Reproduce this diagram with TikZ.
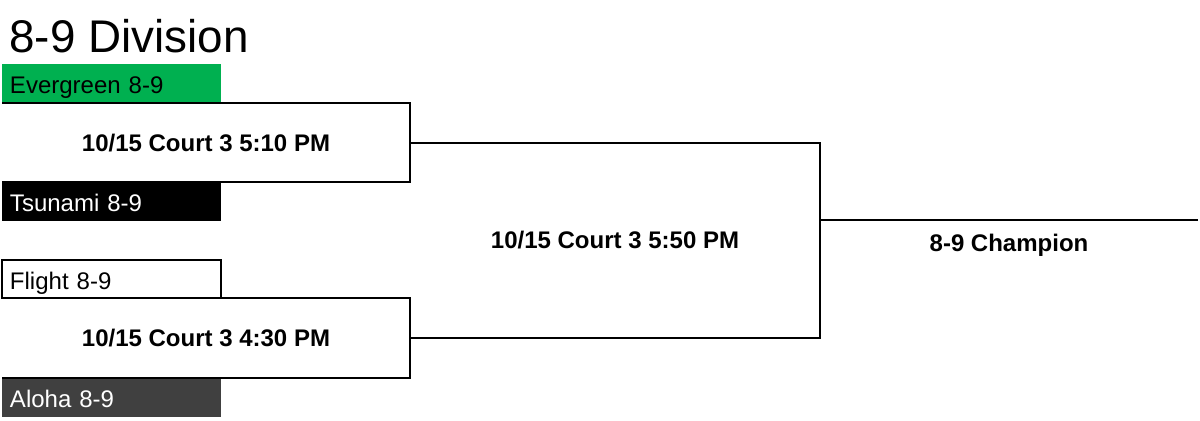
\documentclass[tikz,border=0pt]{standalone}
\usepackage{fontspec}
\setmainfont{Liberation Sans}
\usepackage{xcolor}
\usepackage{tikz}
\usetikzlibrary{calc,positioning}
\definecolor{evergreen}{HTML}{00B050}
\definecolor{aloha}{HTML}{404040}

\begin{document}
\begin{tikzpicture}[x=0.5pt,y=-0.5pt,
  team/.style={rectangle,inner xsep=4pt,inner ysep=0pt,outer sep=0pt,minimum height=19.5pt,
    text width=101.5pt,align=left,text height=10pt,text depth=0pt,font=\fontsize{12}{14}\selectfont},
  match/.style={rectangle,inner sep=0pt,outer sep=0pt,text height=8.5pt,text depth=0pt,
    font=\bfseries\fontsize{12}{14}\selectfont},
  bracket/.style={line width=1pt}]
\fill[white] (0,0) rectangle (1200,420);
\useasboundingbox (0,0) rectangle (1200,420);
\node (title) [anchor=base west,inner sep=0pt,font=\fontsize{22.9}{27}\selectfont] at (9,52) {8-9 Division};
\node (m1) [match,minimum width=204pt,minimum height=39.5pt,anchor=north west] at (2,103) {10/15 Court 3 5:10 PM};
\node (ever) [team,fill=evergreen,anchor=south west] at (m1.north west) {Evergreen 8-9};
\node (tsu) [team,fill=black,text=white,anchor=north west] at (m1.south west) {Tsunami 8-9};
\node (m2) [match,minimum width=204pt,minimum height=40pt,anchor=north west] at (2,298) {10/15 Court 3 4:30 PM};
\node (fli) [team,draw,line width=1pt,minimum height=19pt,anchor=south west] at (m2.north west) {Flight 8-9};
\node (alo) [team,fill=aloha,text=white,anchor=north west] at (m2.south west) {Aloha 8-9};
\node (m3) [match,minimum width=205pt,minimum height=97.75pt,anchor=north west] at (m1.east) {10/15 Court 3 5:50 PM};
\node (champ) [match,minimum width=189pt,minimum height=23pt,anchor=north west,yshift=10pt] at (m3.east) {8-9 Champion};
\draw[bracket] (m1.north west) -- (m1.north east) -- (m1.south east) -- (m1.south west);
\draw[bracket] (m2.north west) -- (m2.north east) -- (m2.south east) -- (m2.south west);
\draw[bracket] (m3.north west) -- (m3.north east) -- (m3.south east) -- (m3.south west);
\draw[bracket] (champ.north west) -- (champ.north east);
\end{tikzpicture}
\end{document}
